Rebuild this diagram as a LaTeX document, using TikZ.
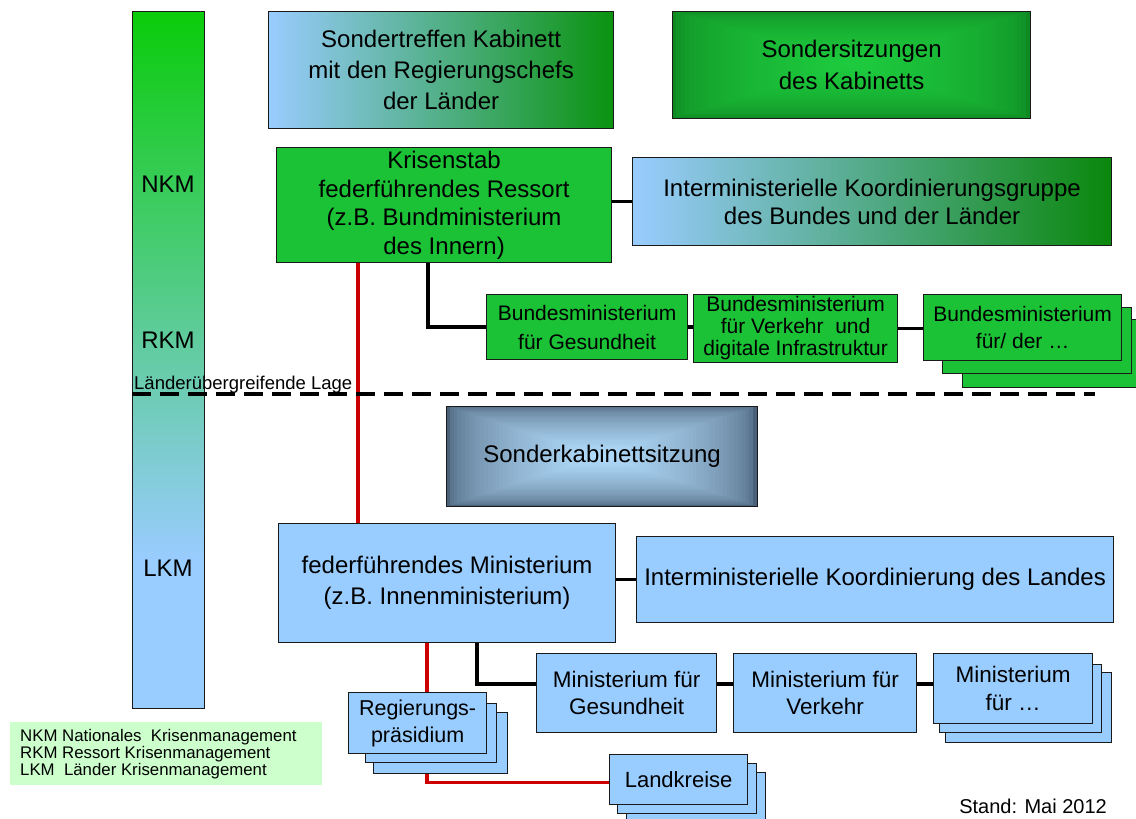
\documentclass[tikz,border=0pt]{standalone}
\usepackage{fontspec}
\setmainfont{Liberation Sans}
\usetikzlibrary{calc}
\definecolor{lblue}{HTML}{99CCFF}
\definecolor{bgreen}{HTML}{1BC236}
\definecolor{dgreen}{HTML}{0A930F}
\definecolor{dgreenb}{HTML}{0A870C}
\definecolor{bargreen}{HTML}{0ACC0A}
\definecolor{lred}{HTML}{CC0000}
\definecolor{legbg}{HTML}{CCFFCC}
\definecolor{slate}{HTML}{4A6179}
\definecolor{slatec}{HTML}{B2DCFC}
\definecolor{sgin}{HTML}{1DCB3E}
\definecolor{sgout}{HTML}{0F8A22}
\definecolor{bord}{HTML}{1A1A1A}
\pgfdeclarelayer{back}
\pgfsetlayers{back,main}
\newcommand\myrectgrad[6]{%
  \foreach \k in {0,...,40}{%
    \pgfmathsetmacro\myf{1-\k/41}%
    \pgfmathsetmacro\myp{100*sqrt(\k/40)}%
    \fill[#6!\myp!#5] ({#1-#3*\myf},{#2-#4*\myf}) rectangle ({#1+#3*\myf},{#2+#4*\myf});
  }%
}
\begin{document}
\begin{tikzpicture}[x=1pt,y=-1pt,
 bx/.style={draw=bord, line width=1.2pt, inner sep=2pt, align=center, anchor=north west, text=black},
 gbox/.style={bx, fill=bgreen},
 lbox/.style={bx, fill=lblue},
 fbig/.style={font=\fontsize{24}{29}\selectfont},
 fmin/.style={font=\fontsize{22.5}{27.5}\selectfont},
 blk/.style={line width=3.5pt, black},
 redl/.style={line width=3.2pt, lred},
]
\useasboundingbox (0,0) rectangle (1136,819);
\begin{scope}
\clip (0,0) rectangle (1136,819);
% left bar
\fill[lblue] (132,11) rectangle (204,708);
\shade[top color=bargreen, bottom color=lblue] (132,11) rectangle (204,560);
\node[bx, minimum width=72pt, minimum height=697pt] (bar) at (132,11) {};
\node[fbig] (nkm) at (168,184) {NKM};
\node[fbig] (rkm) at (168,340) {RKM};
\node[fbig] (lkm) at (168,568) {LKM};

% top boxes
\node[bx, left color=lblue, right color=dgreen, minimum width=345pt, minimum height=117pt, font=\fontsize{24}{31}\selectfont] (st) at (268,11) {Sondertreffen Kabinett\\mit den Regierungschefs\\der Länder};
\myrectgrad{851}{64.5}{179}{53.5}{sgout}{sgin}
\node[bx, minimum width=358pt, minimum height=107pt, font=\fontsize{24}{32}\selectfont] (ss) at (672,11) {Sondersitzungen\\des Kabinetts};

% federal level
\node[gbox, minimum width=335pt, minimum height=115pt, font=\fontsize{24}{28.5}\selectfont] (kris) at (276,147) {Krisenstab\\federführendes Ressort\\(z.B. Bundministerium\\des Innern)};
\node[bx, left color=lblue, right color=dgreenb, minimum width=479pt, minimum height=88pt, font=\fontsize{24}{28}\selectfont] (ikg) at (632,157) {Interministerielle Koordinierungsgruppe\\des Bundes und der Länder};
\node[gbox, minimum width=201pt, minimum height=65pt, font=\fontsize{21}{29}\selectfont] (bg) at (486,294) {Bundesministerium\\für Gesundheit};
\node[gbox, minimum width=204pt, minimum height=67pt, font=\fontsize{21}{22}\selectfont] (bv) at (693,294) {Bundesministerium\\für Verkehr\ \ und\\digitale Infrastruktur};
\node[gbox, minimum width=190pt, minimum height=68pt] (bm3) at (962,319) {};
\node[gbox, minimum width=189pt, minimum height=66pt] (bm2) at (942,307) {};
\node[gbox, minimum width=198pt, minimum height=66pt, font=\fontsize{21}{27}\selectfont] (bm) at (923,294) {Bundesministerium\\für/ der …};

% separator
\node[anchor=base west, inner sep=0pt, font=\fontsize{18.5}{20}\selectfont] (lage) at (134,389) {Länderübergreifende Lage};
\coordinate (d1) at (132,394);
\coordinate (d2) at (1095,394);
\draw[line width=3.5pt, dash pattern=on 19pt off 9pt] (d1) -- (d2);

\myrectgrad{601.5}{456}{155.5}{50}{slate}{slatec}
\node[bx, minimum width=311pt, minimum height=100pt, fbig] (sk) at (446,406) {Sonderkabinettsitzung};

% Land level
\node[lbox, minimum width=337pt, minimum height=119pt, font=\fontsize{24}{31}\selectfont] (fm) at (278,523) {federführendes Ministerium\\(z.B. Innenministerium)};
\node[lbox, minimum width=477pt, minimum height=86pt, fbig] (ikl) at (636,536) {Interministerielle Koordinierung des Landes};
\node[lbox, minimum width=180pt, minimum height=79pt, fmin] (mg) at (536,653) {Ministerium für\\Gesundheit};
\node[lbox, minimum width=183pt, minimum height=79pt, fmin] (mv) at (733,653) {Ministerium für\\Verkehr};
\node[lbox, minimum width=166pt, minimum height=70pt] (mf3) at (945,672) {};
\node[lbox, minimum width=162pt, minimum height=68pt] (mf2) at (939,664) {};
\node[lbox, minimum width=159pt, minimum height=70pt, fmin] (mf) at (933,653) {Ministerium\\für …};

\node[lbox, minimum width=134pt, minimum height=61pt] (rp3) at (373,712) {};
\node[lbox, minimum width=131pt, minimum height=59pt] (rp2) at (365,703) {};
\node[lbox, minimum width=138pt, minimum height=61pt, font=\fontsize{21.5}{27}\selectfont] (rp) at (348,692) {Regierungs-\\präsidium};

\node[lbox, minimum width=139pt, minimum height=60pt] (lk3) at (626,772) {};
\node[lbox, minimum width=139pt, minimum height=50pt] (lk2) at (617,763) {};
\node[lbox, minimum width=138pt, minimum height=50pt, font=\fontsize{22}{26}\selectfont] (lk) at (609,754) {Landkreise};

% legend
\node[fill=legbg, anchor=north west, inner sep=0pt, minimum width=312pt, minimum height=63pt] (leg) at (10,722) {};
\node[anchor=north west, inner sep=0pt, align=left, font=\fontsize{16.8}{17.3}\selectfont] (legt) at (20,729) {NKM Nationales\ \ Krisenmanagement\\RKM Ressort Krisenmanagement\\LKM\ \ Länder Krisenmanagement};

\node[anchor=east, inner sep=0pt, font=\fontsize{20}{22}\selectfont] (stand) at (1107,806) {Stand: Mai 2012};

% connectors
\begin{pgfonlayer}{back}
\draw[blk] (kris.east |- ikg.west) -- (ikg.west);
\coordinate (b1) at ($(kris.south west)+(152,0)$);
\draw[blk] (b1) |- (bg.west);
\draw[blk] (bg.east) -- (bg.east -| bv.west);
\draw[blk] (bv.east) -- (bv.east -| bm.west);
\coordinate (r1) at ($(kris.south west)+(82,0)$);
\draw[redl] (r1) -- (r1 |- fm.north);
\draw[blk] (fm.east |- ikl.west) -- (ikl.west);
\coordinate (b2) at ($(fm.south west)+(199,0)$);
\draw[blk] (b2) |- ([yshift=9pt]mg.west);
\draw[blk] ([yshift=9pt]mg.east) -- ([yshift=9pt]mg.east -| mv.west);
\draw[blk] ([yshift=9pt]mv.east) -- ([yshift=9pt]mv.east -| mf.west);
\coordinate (r2) at ($(fm.south west)+(149,0)$);
\draw[redl] (r2) |- ([yshift=-3pt]lk.west);
\end{pgfonlayer}
\end{scope}
\end{tikzpicture}
\end{document}
